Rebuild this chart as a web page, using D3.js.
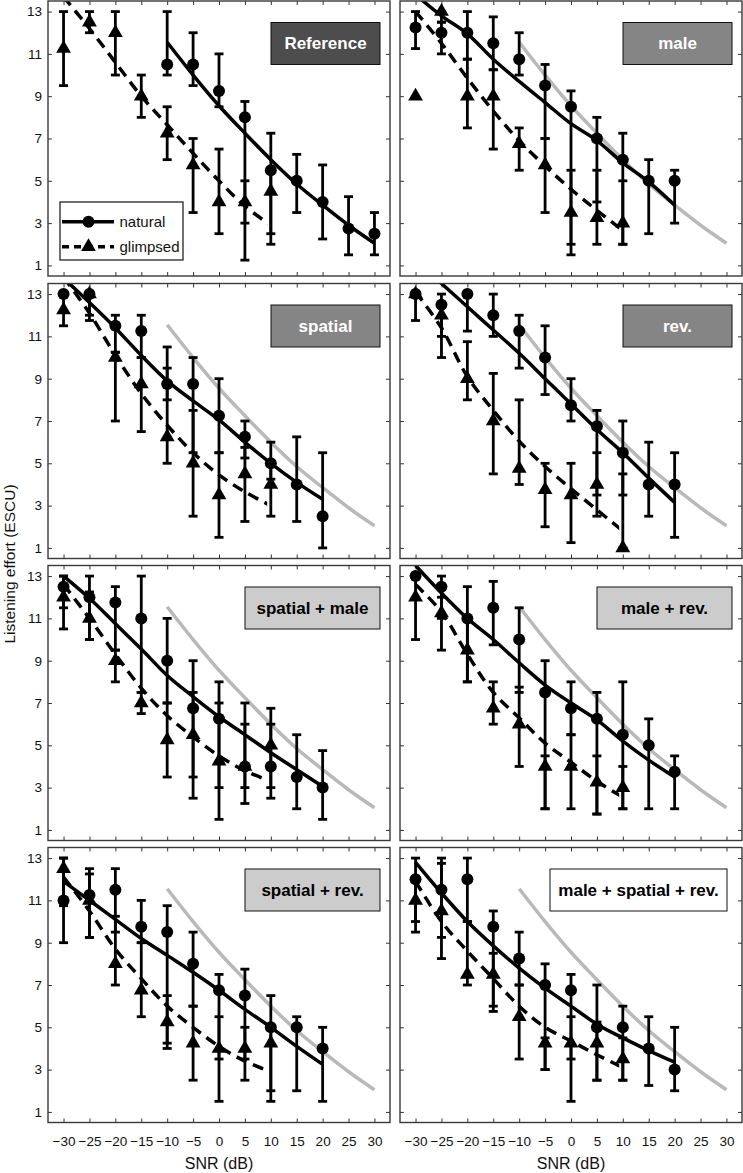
<!DOCTYPE html>
<html><head><meta charset="utf-8">
<script src="https://cdn.jsdelivr.net/npm/d3@7"></script>
<style>
body{margin:0;background:#fff}
svg{display:block;font-family:"Liberation Sans",Arial,Helvetica,sans-serif}
</style>
</head><body>
<svg id="chart" width="743" height="1173"></svg>
<script>
// ---------------- DATA ----------------
const snrLevels = [-30,-25,-20,-15,-10,-5,0,5,10,15,20,25,30];
const yTicks = [1,3,5,7,9,11,13];
const conditions = ["Reference","male","spatial","rev.","spatial + male","male + rev.","spatial + rev.","male + spatial + rev."];
const seriesNames = ["natural","glimpsed"];
const N = null;

const naturalMean = [
 [N,N,N,N,10.5,10.5,9.25,8.0,5.5,5.0,4.0,2.75,2.5],
 [12.25,12.0,12.0,11.5,10.75,9.5,8.5,7.0,6.0,5.0,5.0,N,N],
 [13.0,13.0,11.5,11.25,8.75,8.75,7.25,6.25,5.0,4.0,2.5,N,N],
 [13.0,12.5,13.0,12.0,11.25,10.0,7.75,6.75,5.5,4.0,4.0,N,N],
 [12.5,12.0,11.75,11.0,9.0,6.75,6.25,4.0,4.0,3.5,3.0,N,N],
 [13.0,12.5,11.0,11.5,10.0,7.5,6.75,6.25,5.5,5.0,3.75,N,N],
 [11.0,11.25,11.5,9.75,9.5,8.0,6.75,6.5,5.0,5.0,4.0,N,N],
 [12.0,11.5,12.0,9.75,8.25,7.0,6.75,5.0,5.0,4.0,3.0,N,N]
];
const naturalLow = [
 [N,N,N,N,10.0,9.5,8.5,1.25,2.5,3.5,2.25,1.5,1.5],
 [11.25,11.0,10.75,10.25,10.0,7.0,1.5,4.0,2.0,2.5,3.0,N,N],
 [13.0,12.0,10.25,10.0,8.0,5.5,5.5,5.25,4.25,2.25,1.0,N,N],
 [11.75,11.0,11.25,11.0,9.5,8.25,7.0,3.5,3.5,2.5,1.5,N,N],
 [11.5,10.0,9.5,7.5,7.0,3.5,1.5,2.25,2.5,2.0,1.5,N,N],
 [13.0,11.0,8.0,9.75,7.5,2.0,5.5,1.75,2.0,2.0,2.0,N,N],
 [9.0,9.25,9.5,9.0,4.0,6.0,3.5,3.5,2.0,2.0,1.5,N,N],
 [9.5,9.25,10.0,6.0,7.0,3.0,3.5,2.5,2.5,2.25,2.0,N,N]
];
const naturalHigh = [
 [N,N,N,N,13.0,12.0,11.0,8.75,7.25,6.25,5.75,4.25,3.5],
 [13.0,12.5,13.0,12.75,12.0,10.5,9.25,8.0,7.25,6.0,5.5,N,N],
 [13.0,13.0,12.0,12.0,10.5,10.0,9.0,7.0,6.0,6.25,5.5,N,N],
 [13.0,13.0,13.0,13.0,12.0,11.5,9.0,7.5,7.0,6.0,5.5,N,N],
 [13.0,13.0,12.5,13.0,11.0,9.0,8.0,7.0,6.75,5.5,4.75,N,N],
 [13.0,13.0,12.5,12.75,11.5,9.0,8.0,7.5,8.0,6.25,4.5,N,N],
 [13.0,12.5,12.5,11.0,10.75,9.5,7.5,7.75,6.5,5.5,5.0,N,N],
 [13.0,13.0,13.0,10.5,9.5,8.0,7.5,7.0,6.0,5.5,5.0,N,N]
];
const glimpsedMean = [
 [11.25,12.5,12.0,9.0,7.25,5.75,4.0,4.0,4.5,N,N,N,N],
 [9.0,13.0,9.0,9.0,6.75,5.75,3.5,3.25,3.0,N,N,N,N],
 [12.25,13.0,10.0,8.75,6.25,5.0,3.5,4.5,4.0,N,N,N,N],
 [13.0,12.0,9.0,7.0,4.75,3.75,3.5,4.0,1.0,N,N,N,N],
 [12.0,11.0,9.0,7.0,5.25,5.5,4.25,4.0,5.0,N,N,N,N],
 [12.0,11.25,9.5,6.75,6.0,4.0,4.0,3.25,3.0,N,N,N,N],
 [12.5,11.0,8.0,6.75,5.25,4.25,4.0,4.0,4.25,N,N,N,N],
 [11.0,10.5,7.5,7.5,5.5,4.25,4.25,4.25,3.5,N,N,N,N]
];
const glimpsedLow = [
 [9.5,12.0,10.0,8.0,6.0,3.5,2.5,3.0,2.0,N,N,N,N],
 [9.0,12.5,7.5,6.5,5.5,3.5,2.0,2.0,2.0,N,N,N,N],
 [11.5,11.75,7.0,6.5,5.0,2.5,1.5,2.25,2.5,N,N,N,N],
 [13.0,10.0,8.0,4.5,4.0,2.0,1.25,2.5,1.0,N,N,N,N],
 [10.5,10.0,8.0,6.5,3.5,2.5,3.0,3.0,3.0,N,N,N,N],
 [10.0,9.5,8.0,6.0,4.0,2.0,2.0,1.75,2.0,N,N,N,N],
 [10.75,9.25,7.0,5.5,4.25,2.5,1.5,2.5,1.5,N,N,N,N],
 [10.0,8.25,7.0,5.75,3.5,3.0,1.5,2.5,2.5,N,N,N,N]
];
const glimpsedHigh = [
 [13.0,13.0,13.0,10.0,8.5,7.0,6.5,5.0,5.5,N,N,N,N],
 [9.0,13.0,10.75,10.25,7.5,7.0,5.5,5.5,5.0,N,N,N,N],
 [13.0,13.0,10.25,10.0,9.5,7.5,5.5,5.75,5.0,N,N,N,N],
 [13.0,12.5,10.75,9.25,8.0,5.0,5.0,5.5,4.5,N,N,N,N],
 [13.0,12.25,9.5,7.5,7.0,7.5,7.0,6.0,6.0,N,N,N,N],
 [13.0,12.0,11.0,8.0,7.75,4.5,5.5,4.5,4.0,N,N,N,N],
 [13.0,12.25,10.25,9.0,6.5,6.0,5.5,5.0,5.0,N,N,N,N],
 [12.0,12.75,10.0,8.5,7.0,4.5,5.5,5.25,4.5,N,N,N,N]
];
// fitted curves (natural fit of "Reference" is also the grey reference curve)
const naturalFit = [
 [N,N,N,N,11.55,10.0,8.55,7.25,6.0,4.85,3.85,2.9,2.05],
 [13.8,12.8,11.95,10.75,9.7,8.7,7.7,6.9,5.85,4.95,3.85,N,N],
 [13.75,12.6,11.4,10.1,8.9,7.95,7.05,6.0,5.0,4.1,3.3,N,N],
 [14.6,13.5,12.4,11.3,10.2,9.0,7.8,6.6,5.5,4.3,3.15,N,N],
 [13.0,11.95,10.75,9.55,8.3,7.3,6.35,5.5,4.65,3.85,3.05,N,N],
 [13.5,12.2,11.0,10.0,8.9,7.85,7.0,6.2,5.2,4.3,3.5,N,N],
 [11.9,11.0,10.1,9.2,8.4,7.6,6.75,5.85,5.0,4.1,3.25,N,N],
 [12.8,11.35,10.0,8.85,7.8,6.85,6.0,5.15,4.5,3.9,3.35,N,N]
];
const glimpsedFit = [
 [13.7,12.2,10.6,9.0,7.65,6.3,5.0,3.8,2.9,N,N,N,N],
 [13.0,11.5,9.85,8.3,6.9,5.7,4.6,3.6,2.65,N,N,N,N],
 [13.8,12.1,10.1,8.3,6.8,5.5,4.45,3.65,3.0,N,N,N,N],
 [13.1,11.4,9.1,7.5,6.05,4.85,3.8,2.8,1.8,N,N,N,N],
 [12.6,11.0,9.3,7.7,6.4,5.4,4.5,3.8,3.3,N,N,N,N],
 [12.6,11.3,9.3,7.5,6.3,5.1,4.2,3.3,2.55,N,N,N,N],
 [12.1,10.5,8.7,7.3,6.0,5.0,4.1,3.4,2.9,N,N,N,N],
 [11.9,10.0,8.6,7.3,6.0,5.0,4.35,3.7,3.1,N,N,N,N]
];
const glimpsedFitEnd = 9.3;
const xLabel = "SNR (dB)";
const yLabel = "Listening effort (ESCU)";

// ---------------- STYLE / LAYOUT ----------------
const colX = [[48,390],[400,742]];
const rowTop = [1,283.5,565.5,847.5];
const panelH = 275;
const boxStyle = [
 {fill:"#4d4d4d",text:"#fff",w:109,r:10},
 {fill:"#858585",text:"#fff",w:109,r:10},
 {fill:"#858585",text:"#fff",w:109,r:10},
 {fill:"#858585",text:"#fff",w:109,r:10},
 {fill:"#cccccc",text:"#000",w:135,r:10},
 {fill:"#cccccc",text:"#000",w:135,r:10},
 {fill:"#cccccc",text:"#000",w:135,r:10},
 {fill:"#ffffff",text:"#000",w:177,r:15}
];
const lineW = 3.5, errW = 2.8, capHalf = 4.5, dotR = 6, triSize = 95;

const svg = d3.select("#chart");
const defs = svg.append("defs");
const triPath = d3.symbol(d3.symbolTriangle, triSize)();

conditions.forEach((cond, p) => {
  const col = p % 2, row = Math.floor(p / 2);
  const [x0, x1] = colX[col];
  const top = rowTop[row], bot = top + panelH;
  const x = d3.scaleLinear().domain([-33, 33]).range([x0, x1]);
  const y = d3.scaleLinear().domain([0.5, 13.5]).range([bot, top]);
  const g = svg.append("g");

  defs.append("clipPath").attr("id", "clip" + p).append("rect")
    .attr("x", x0).attr("y", top).attr("width", x1 - x0).attr("height", panelH);
  defs.append("clipPath").attr("id", "clipg" + p).append("rect")
    .attr("x", x0).attr("y", top).attr("width", x(glimpsedFitEnd) - x0).attr("height", panelH);

  // axes (ticks inward on all 4 sides)
  const axB = d3.axisBottom(x).tickValues(snrLevels).tickSizeInner(-4).tickSizeOuter(0).tickFormat(row === 3 ? d3.format("d") : "");
  const axT = d3.axisTop(x).tickValues(snrLevels).tickSizeInner(-4).tickSizeOuter(0).tickFormat("");
  const axL = d3.axisLeft(y).tickValues(yTicks).tickSizeInner(-4).tickSizeOuter(0).tickFormat(col === 0 ? d3.format("d") : "");
  const axR = d3.axisRight(y).tickValues(yTicks).tickSizeInner(-4).tickSizeOuter(0).tickFormat("");
  const styleAx = (sel) => {
    sel.select(".domain").remove();
    sel.selectAll(".tick line").attr("stroke", "#333").attr("stroke-width", 1);
    sel.selectAll(".tick text").attr("fill", "#111").style("font-size", "13.5px");
  };
  g.append("g").attr("transform", `translate(0,${bot})`).call(axB).call(styleAx)
    .selectAll(".tick text").attr("dy", "0").attr("y", 23);
  g.append("g").attr("transform", `translate(0,${top})`).call(axT).call(styleAx);
  g.append("g").attr("transform", `translate(${x0},0)`).call(axL).call(styleAx)
    .selectAll(".tick text").attr("x", -6);
  g.append("g").attr("transform", `translate(${x1},0)`).call(axR).call(styleAx);

  const pts = (arr) => snrLevels.map((s, i) => ({s, v: arr[i]}));
  const line = d3.line().defined(d => d.v != null).x(d => x(d.s)).y(d => y(d.v)).curve(d3.curveCatmullRom);

  // grey reference curve
  if (p > 0) {
    g.append("path").attr("d", line(pts(naturalFit[0]))).attr("fill", "none")
      .attr("stroke", "#b9b9b9").attr("stroke-width", lineW).attr("clip-path", `url(#clip${p})`);
  }

  // error bars
  const drawErr = (mean, lo, hi) => {
    snrLevels.forEach((s, i) => {
      if (mean[i] == null || lo[i] == null) return;
      const cx = x(s);
      const eg = g.append("g").attr("stroke", "#000").attr("stroke-width", errW);
      eg.append("line").attr("x1", cx).attr("x2", cx).attr("y1", y(lo[i])).attr("y2", y(hi[i]));
      if (hi[i] !== lo[i]) {
        [lo[i], hi[i]].forEach(v => eg.append("line").attr("x1", cx - capHalf).attr("x2", cx + capHalf).attr("y1", y(v)).attr("y2", y(v)));
      }
    });
  };
  drawErr(naturalMean[p], naturalLow[p], naturalHigh[p]);
  drawErr(glimpsedMean[p], glimpsedLow[p], glimpsedHigh[p]);

  // fits
  g.append("path").attr("d", line(pts(naturalFit[p]))).attr("fill", "none")
    .attr("stroke", "#000").attr("stroke-width", lineW).attr("clip-path", `url(#clip${p})`);
  g.append("path").attr("d", line(pts(glimpsedFit[p]))).attr("fill", "none")
    .attr("stroke", "#000").attr("stroke-width", lineW).attr("stroke-dasharray", "11,7")
    .attr("clip-path", `url(#clipg${p})`);

  // markers
  snrLevels.forEach((s, i) => {
    if (naturalMean[p][i] != null)
      g.append("circle").attr("cx", x(s)).attr("cy", y(naturalMean[p][i])).attr("r", dotR).attr("fill", "#000");
    if (glimpsedMean[p][i] != null)
      g.append("path").attr("d", triPath).attr("transform", `translate(${x(s)},${y(glimpsedMean[p][i])})`).attr("fill", "#000");
  });

  // frame
  g.append("rect").attr("x", x0).attr("y", top).attr("width", x1 - x0).attr("height", panelH)
    .attr("fill", "none").attr("stroke", "#3a3a3a").attr("stroke-width", 1.4);

  // condition box
  const bs = boxStyle[p];
  const bx = x1 - bs.r - bs.w, by = top + 21.5;
  g.append("rect").attr("x", bx).attr("y", by).attr("width", bs.w).attr("height", 42)
    .attr("fill", bs.fill).attr("stroke", "#111").attr("stroke-width", 1);
  g.append("text").attr("x", bx + bs.w / 2).attr("y", by + 21).attr("text-anchor", "middle")
    .attr("dominant-baseline", "central").attr("fill", bs.text)
    .style("font-size", "17px").style("font-weight", "bold").text(cond);

  // legend in first panel
  if (p === 0) {
    const lg = g.append("g");
    lg.append("rect").attr("x", 60).attr("y", 202).attr("width", 123).attr("height", 58)
      .attr("fill", "#fff").attr("stroke", "#111").attr("stroke-width", 1.2);
    const ly = [221.7, 246.7];
    seriesNames.forEach((nm, k) => {
      lg.append("line").attr("x1", 62).attr("x2", 114).attr("y1", ly[k]).attr("y2", ly[k])
        .attr("stroke", "#000").attr("stroke-width", lineW).attr("stroke-dasharray", k ? "7,5" : null);
      if (k === 0) lg.append("circle").attr("cx", 88.5).attr("cy", ly[k]).attr("r", dotR).attr("fill", "#000");
      else lg.append("path").attr("d", triPath).attr("transform", `translate(88.5,${ly[k]})`).attr("fill", "#000");
      lg.append("text").attr("x", 119.5).attr("y", ly[k]).attr("dominant-baseline", "central")
        .style("font-size", "15px").attr("fill", "#111").text(nm);
    });
  }
});

// axis titles
colX.forEach(([a, b]) => {
  svg.append("text").attr("x", (a + b) / 2).attr("y", 1163).attr("text-anchor", "middle")
    .attr("dominant-baseline", "central").style("font-size", "16px").attr("fill", "#111").text(xLabel);
});
svg.append("text").attr("transform", "translate(9,564) rotate(-90)").attr("text-anchor", "middle")
  .attr("dominant-baseline", "central").style("font-size", "15.5px").attr("fill", "#111").text(yLabel);
</script>
</body></html>
